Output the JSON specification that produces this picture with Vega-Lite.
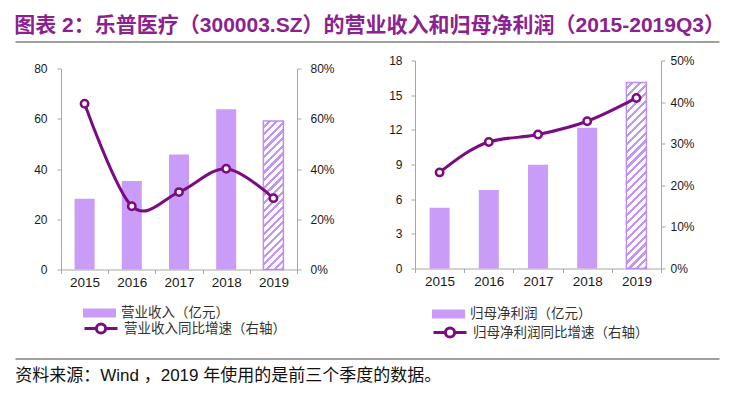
{
  "$schema": "https://vega.github.io/schema/vega-lite/v6.json",
  "padding": {"left": 12, "top": 14.5, "right": 5, "bottom": 5},
  "background": "#ffffff",
  "config": {
    "view": {"stroke": null},
    "font": "Liberation Sans, Noto Sans CJK SC",
    "axis": {"labelFont": "Liberation Sans", "grid": false, "domainColor": "#A6A6A6", "tickColor": "#A6A6A6", "labelColor": "#1a1a1a", "domainWidth": 1, "tickWidth": 1},
    "legend": {"labelFont": "Liberation Sans, Noto Sans CJK SC", "labelFontSize": 13.5, "labelColor": "#333333", "padding": 0, "labelOffset": 5, "labelLimit": 400}
  },
  "datasets": {
    "rev": [
      {"year": "2015", "value": 28.2, "growth": 0.66},
      {"year": "2016", "value": 35.2, "growth": 0.252},
      {"year": "2017", "value": 45.8, "growth": 0.308},
      {"year": "2018", "value": 63.8, "growth": 0.401},
      {"year": "2019", "value": 59.1, "growth": 0.284}
    ],
    "np": [
      {"year": "2015", "value": 5.25, "growth": 0.231},
      {"year": "2016", "value": 6.8, "growth": 0.304},
      {"year": "2017", "value": 8.97, "growth": 0.322},
      {"year": "2018", "value": 12.17, "growth": 0.354},
      {"year": "2019", "value": 16.1, "growth": 0.41}
    ],
    "blank": [{}]
  },
  "spacing": 11,
  "vconcat": [
    {
      "width": 704,
      "height": 2,
      "title": {"text": "图表 2：乐普医疗（300003.SZ）的营业收入和归母净利润（2015-2019Q3）", "anchor": "start", "fontSize": 21, "fontWeight": "bold", "color": "#8B2290", "font": "Liberation Sans, Noto Sans CJK SC", "offset": 2, "dx": 2},
      "data": {"name": "blank"},
      "mark": {"type": "point", "opacity": 0},
      "encoding": {"x": {"datum": 0, "type": "quantitative", "scale": {"domain": [0, 1]}, "axis": {"title": null, "labels": false, "ticks": false, "grid": false, "domainColor": "#7F7F7F", "domainWidth": 1.5}}}
    },
    {
      "spacing": 50,
      "resolve": {"scale": {"fill": "independent", "stroke": "independent"}, "legend": {"fill": "independent", "stroke": "independent"}},
      "hconcat": [
        {
          "width": 282,
          "height": 209,
          "data": {"name": "rev"},
          "layer": [
            {
              "encoding": {
                "x": {"field": "year", "type": "ordinal", "scale": {"paddingInner": 0, "paddingOuter": 0, "range": [46, 282]}, "axis": {"title": null, "labelAngle": 0, "tickBand": "extent", "tickSize": 4, "labelPadding": 2, "labelFontSize": 13.5}},
                "y": {"field": "value", "type": "quantitative", "scale": {"domain": [0, 80], "nice": false, "range": [209, 8]}, "axis": {"title": null, "offset": -46, "values": [0, 20, 40, 60, 80], "tickSize": 4, "labelPadding": 10, "labelFontSize": 12}}
              },
              "layer": [
                {
                  "transform": [{"filter": "datum.year != '2019'"}],
                  "mark": {"type": "bar", "size": 20},
                  "encoding": {
                    "fill": {"datum": "营业收入（亿元）", "scale": {"range": ["#C99CF7"]}, "legend": {"orient": "none", "legendX": 68, "legendY": 236, "title": null, "symbolType": "M-1,-0.27L1,-0.27L1,0.27L-1,0.27Z", "symbolSize": 1089, "symbolStrokeWidth": 0}}
                  }
                },
                {
                  "transform": [{"filter": "datum.year == '2019'"}],
                  "mark": {"type": "bar", "size": 20, "stroke": "#BE8CF2", "strokeWidth": 1.5,
                    "fill": {"gradient": "linear", "x1": 0, "y1": 0, "x2": 0.1501, "y2": 1.1145, "stops": [
                      {"offset": 0, "color": "#ffffff"}, {"offset": 0.02727, "color": "#ffffff"}, {"offset": 0.02727, "color": "#C396F5"}, {"offset": 0.04545, "color": "#C396F5"},
                      {"offset": 0.04545, "color": "#ffffff"}, {"offset": 0.07273, "color": "#ffffff"}, {"offset": 0.07273, "color": "#C396F5"}, {"offset": 0.09091, "color": "#C396F5"},
                      {"offset": 0.09091, "color": "#ffffff"}, {"offset": 0.11818, "color": "#ffffff"}, {"offset": 0.11818, "color": "#C396F5"}, {"offset": 0.13636, "color": "#C396F5"},
                      {"offset": 0.13636, "color": "#ffffff"}, {"offset": 0.16364, "color": "#ffffff"}, {"offset": 0.16364, "color": "#C396F5"}, {"offset": 0.18182, "color": "#C396F5"},
                      {"offset": 0.18182, "color": "#ffffff"}, {"offset": 0.20909, "color": "#ffffff"}, {"offset": 0.20909, "color": "#C396F5"}, {"offset": 0.22727, "color": "#C396F5"},
                      {"offset": 0.22727, "color": "#ffffff"}, {"offset": 0.25455, "color": "#ffffff"}, {"offset": 0.25455, "color": "#C396F5"}, {"offset": 0.27273, "color": "#C396F5"},
                      {"offset": 0.27273, "color": "#ffffff"}, {"offset": 0.3, "color": "#ffffff"}, {"offset": 0.3, "color": "#C396F5"}, {"offset": 0.31818, "color": "#C396F5"},
                      {"offset": 0.31818, "color": "#ffffff"}, {"offset": 0.34545, "color": "#ffffff"}, {"offset": 0.34545, "color": "#C396F5"}, {"offset": 0.36364, "color": "#C396F5"},
                      {"offset": 0.36364, "color": "#ffffff"}, {"offset": 0.39091, "color": "#ffffff"}, {"offset": 0.39091, "color": "#C396F5"}, {"offset": 0.40909, "color": "#C396F5"},
                      {"offset": 0.40909, "color": "#ffffff"}, {"offset": 0.43636, "color": "#ffffff"}, {"offset": 0.43636, "color": "#C396F5"}, {"offset": 0.45455, "color": "#C396F5"},
                      {"offset": 0.45455, "color": "#ffffff"}, {"offset": 0.48182, "color": "#ffffff"}, {"offset": 0.48182, "color": "#C396F5"}, {"offset": 0.5, "color": "#C396F5"},
                      {"offset": 0.5, "color": "#ffffff"}, {"offset": 0.52727, "color": "#ffffff"}, {"offset": 0.52727, "color": "#C396F5"}, {"offset": 0.54545, "color": "#C396F5"},
                      {"offset": 0.54545, "color": "#ffffff"}, {"offset": 0.57273, "color": "#ffffff"}, {"offset": 0.57273, "color": "#C396F5"}, {"offset": 0.59091, "color": "#C396F5"},
                      {"offset": 0.59091, "color": "#ffffff"}, {"offset": 0.61818, "color": "#ffffff"}, {"offset": 0.61818, "color": "#C396F5"}, {"offset": 0.63636, "color": "#C396F5"},
                      {"offset": 0.63636, "color": "#ffffff"}, {"offset": 0.66364, "color": "#ffffff"}, {"offset": 0.66364, "color": "#C396F5"}, {"offset": 0.68182, "color": "#C396F5"},
                      {"offset": 0.68182, "color": "#ffffff"}, {"offset": 0.70909, "color": "#ffffff"}, {"offset": 0.70909, "color": "#C396F5"}, {"offset": 0.72727, "color": "#C396F5"},
                      {"offset": 0.72727, "color": "#ffffff"}, {"offset": 0.75455, "color": "#ffffff"}, {"offset": 0.75455, "color": "#C396F5"}, {"offset": 0.77273, "color": "#C396F5"},
                      {"offset": 0.77273, "color": "#ffffff"}, {"offset": 0.8, "color": "#ffffff"}, {"offset": 0.8, "color": "#C396F5"}, {"offset": 0.81818, "color": "#C396F5"},
                      {"offset": 0.81818, "color": "#ffffff"}, {"offset": 0.84545, "color": "#ffffff"}, {"offset": 0.84545, "color": "#C396F5"}, {"offset": 0.86364, "color": "#C396F5"},
                      {"offset": 0.86364, "color": "#ffffff"}, {"offset": 0.89091, "color": "#ffffff"}, {"offset": 0.89091, "color": "#C396F5"}, {"offset": 0.90909, "color": "#C396F5"},
                      {"offset": 0.90909, "color": "#ffffff"}, {"offset": 0.93636, "color": "#ffffff"}, {"offset": 0.93636, "color": "#C396F5"}, {"offset": 0.95455, "color": "#C396F5"},
                      {"offset": 0.95455, "color": "#ffffff"}, {"offset": 0.98182, "color": "#ffffff"}, {"offset": 0.98182, "color": "#C396F5"}, {"offset": 1, "color": "#C396F5"}
                    ]}
                  }
                }
              ]
            },
            {
              "mark": {"type": "line", "interpolate": "cardinal", "strokeWidth": 3, "point": {"filled": false, "fill": "#ffffff", "size": 55, "strokeWidth": 2.5}},
              "encoding": {
                "x": {"field": "year", "type": "ordinal"},
                "y": {"field": "growth", "type": "quantitative", "scale": {"domain": [0, 0.8], "nice": false, "range": [209, 8]}, "axis": {"title": null, "orient": "right", "format": ".0%", "values": [0, 0.2, 0.4, 0.6, 0.8], "tickSize": 4, "labelPadding": 9, "labelFontSize": 12, "minExtent": 36, "maxExtent": 36}},
                "stroke": {"datum": "营业收入同比增速（右轴）", "scale": {"range": ["#7B0C80"]}, "legend": {"orient": "none", "legendX": 68, "legendY": 250, "title": null, "symbolType": "M-1,0L-0.28,0M0.28,0L1,0M-0.28,0A0.28,0.28,0,1,0,0.28,0A0.28,0.28,0,1,0,-0.28,0Z", "symbolSize": 1089, "symbolStrokeWidth": 3, "symbolFillColor": "#ffffff"}}
              }
            }
          ],
          "resolve": {"scale": {"y": "independent"}}
        },
        {
          "width": 246,
          "height": 208,
          "data": {"name": "np"},
          "layer": [
            {
              "encoding": {
                "x": {"field": "year", "type": "ordinal", "scale": {"paddingInner": 0, "paddingOuter": 0}, "axis": {"title": null, "labelAngle": 0, "tickBand": "extent", "tickSize": 4, "labelPadding": 2, "labelFontSize": 13.5}},
                "y": {"field": "value", "type": "quantitative", "scale": {"domain": [0, 18], "nice": false}, "axis": {"title": null, "values": [0, 3, 6, 9, 12, 15, 18], "tickSize": 4, "labelPadding": 9, "labelFontSize": 12, "minExtent": 30, "maxExtent": 30}}
              },
              "layer": [
                {
                  "transform": [{"filter": "datum.year != '2019'"}],
                  "mark": {"type": "bar", "size": 20},
                  "encoding": {
                    "fill": {"datum": "归母净利润（亿元）", "scale": {"range": ["#C99CF7"]}, "legend": {"orient": "none", "legendX": 17, "legendY": 237, "title": null, "symbolType": "M-1,-0.27L1,-0.27L1,0.27L-1,0.27Z", "symbolSize": 1089, "symbolStrokeWidth": 0}}
                  }
                },
                {
                  "transform": [{"filter": "datum.year == '2019'"}],
                  "mark": {"type": "bar", "size": 20, "stroke": "#BE8CF2", "strokeWidth": 1.5,
                    "fill": {"gradient": "linear", "x1": 0, "y1": 0, "x2": 0.1177, "y2": 1.0948, "stops": [
                      {"offset": 0, "color": "#ffffff"}, {"offset": 0.02308, "color": "#ffffff"}, {"offset": 0.02308, "color": "#C396F5"}, {"offset": 0.03846, "color": "#C396F5"},
                      {"offset": 0.03846, "color": "#ffffff"}, {"offset": 0.06154, "color": "#ffffff"}, {"offset": 0.06154, "color": "#C396F5"}, {"offset": 0.07692, "color": "#C396F5"},
                      {"offset": 0.07692, "color": "#ffffff"}, {"offset": 0.1, "color": "#ffffff"}, {"offset": 0.1, "color": "#C396F5"}, {"offset": 0.11538, "color": "#C396F5"},
                      {"offset": 0.11538, "color": "#ffffff"}, {"offset": 0.13846, "color": "#ffffff"}, {"offset": 0.13846, "color": "#C396F5"}, {"offset": 0.15385, "color": "#C396F5"},
                      {"offset": 0.15385, "color": "#ffffff"}, {"offset": 0.17692, "color": "#ffffff"}, {"offset": 0.17692, "color": "#C396F5"}, {"offset": 0.19231, "color": "#C396F5"},
                      {"offset": 0.19231, "color": "#ffffff"}, {"offset": 0.21538, "color": "#ffffff"}, {"offset": 0.21538, "color": "#C396F5"}, {"offset": 0.23077, "color": "#C396F5"},
                      {"offset": 0.23077, "color": "#ffffff"}, {"offset": 0.25385, "color": "#ffffff"}, {"offset": 0.25385, "color": "#C396F5"}, {"offset": 0.26923, "color": "#C396F5"},
                      {"offset": 0.26923, "color": "#ffffff"}, {"offset": 0.29231, "color": "#ffffff"}, {"offset": 0.29231, "color": "#C396F5"}, {"offset": 0.30769, "color": "#C396F5"},
                      {"offset": 0.30769, "color": "#ffffff"}, {"offset": 0.33077, "color": "#ffffff"}, {"offset": 0.33077, "color": "#C396F5"}, {"offset": 0.34615, "color": "#C396F5"},
                      {"offset": 0.34615, "color": "#ffffff"}, {"offset": 0.36923, "color": "#ffffff"}, {"offset": 0.36923, "color": "#C396F5"}, {"offset": 0.38462, "color": "#C396F5"},
                      {"offset": 0.38462, "color": "#ffffff"}, {"offset": 0.40769, "color": "#ffffff"}, {"offset": 0.40769, "color": "#C396F5"}, {"offset": 0.42308, "color": "#C396F5"},
                      {"offset": 0.42308, "color": "#ffffff"}, {"offset": 0.44615, "color": "#ffffff"}, {"offset": 0.44615, "color": "#C396F5"}, {"offset": 0.46154, "color": "#C396F5"},
                      {"offset": 0.46154, "color": "#ffffff"}, {"offset": 0.48462, "color": "#ffffff"}, {"offset": 0.48462, "color": "#C396F5"}, {"offset": 0.5, "color": "#C396F5"},
                      {"offset": 0.5, "color": "#ffffff"}, {"offset": 0.52308, "color": "#ffffff"}, {"offset": 0.52308, "color": "#C396F5"}, {"offset": 0.53846, "color": "#C396F5"},
                      {"offset": 0.53846, "color": "#ffffff"}, {"offset": 0.56154, "color": "#ffffff"}, {"offset": 0.56154, "color": "#C396F5"}, {"offset": 0.57692, "color": "#C396F5"},
                      {"offset": 0.57692, "color": "#ffffff"}, {"offset": 0.6, "color": "#ffffff"}, {"offset": 0.6, "color": "#C396F5"}, {"offset": 0.61538, "color": "#C396F5"},
                      {"offset": 0.61538, "color": "#ffffff"}, {"offset": 0.63846, "color": "#ffffff"}, {"offset": 0.63846, "color": "#C396F5"}, {"offset": 0.65385, "color": "#C396F5"},
                      {"offset": 0.65385, "color": "#ffffff"}, {"offset": 0.67692, "color": "#ffffff"}, {"offset": 0.67692, "color": "#C396F5"}, {"offset": 0.69231, "color": "#C396F5"},
                      {"offset": 0.69231, "color": "#ffffff"}, {"offset": 0.71538, "color": "#ffffff"}, {"offset": 0.71538, "color": "#C396F5"}, {"offset": 0.73077, "color": "#C396F5"},
                      {"offset": 0.73077, "color": "#ffffff"}, {"offset": 0.75385, "color": "#ffffff"}, {"offset": 0.75385, "color": "#C396F5"}, {"offset": 0.76923, "color": "#C396F5"},
                      {"offset": 0.76923, "color": "#ffffff"}, {"offset": 0.79231, "color": "#ffffff"}, {"offset": 0.79231, "color": "#C396F5"}, {"offset": 0.80769, "color": "#C396F5"},
                      {"offset": 0.80769, "color": "#ffffff"}, {"offset": 0.83077, "color": "#ffffff"}, {"offset": 0.83077, "color": "#C396F5"}, {"offset": 0.84615, "color": "#C396F5"},
                      {"offset": 0.84615, "color": "#ffffff"}, {"offset": 0.86923, "color": "#ffffff"}, {"offset": 0.86923, "color": "#C396F5"}, {"offset": 0.88462, "color": "#C396F5"},
                      {"offset": 0.88462, "color": "#ffffff"}, {"offset": 0.90769, "color": "#ffffff"}, {"offset": 0.90769, "color": "#C396F5"}, {"offset": 0.92308, "color": "#C396F5"},
                      {"offset": 0.92308, "color": "#ffffff"}, {"offset": 0.94615, "color": "#ffffff"}, {"offset": 0.94615, "color": "#C396F5"}, {"offset": 0.96154, "color": "#C396F5"},
                      {"offset": 0.96154, "color": "#ffffff"}, {"offset": 0.98462, "color": "#ffffff"}, {"offset": 0.98462, "color": "#C396F5"}, {"offset": 1, "color": "#C396F5"}
                    ]}
                  }
                }
              ]
            },
            {
              "mark": {"type": "line", "interpolate": "monotone", "strokeWidth": 3, "point": {"filled": false, "fill": "#ffffff", "size": 55, "strokeWidth": 2.5}},
              "encoding": {
                "x": {"field": "year", "type": "ordinal"},
                "y": {"field": "growth", "type": "quantitative", "scale": {"domain": [0, 0.5], "nice": false}, "axis": {"title": null, "orient": "right", "format": ".0%", "values": [0, 0.1, 0.2, 0.3, 0.4, 0.5], "tickSize": 4, "labelPadding": 5, "labelFontSize": 12}},
                "stroke": {"datum": "归母净利润同比增速（右轴）", "scale": {"range": ["#7B0C80"]}, "legend": {"orient": "none", "legendX": 17, "legendY": 254, "title": null, "symbolType": "M-1,0L-0.28,0M0.28,0L1,0M-0.28,0A0.28,0.28,0,1,0,0.28,0A0.28,0.28,0,1,0,-0.28,0Z", "symbolSize": 1089, "symbolStrokeWidth": 3, "symbolFillColor": "#ffffff"}}
              }
            }
          ],
          "resolve": {"scale": {"y": "independent"}}
        }
      ]
    },
    {
      "width": 704,
      "height": 1,
      "title": {"text": "资料来源：Wind ，2019 年使用的是前三个季度的数据。", "orient": "bottom", "anchor": "start", "fontSize": 17, "fontWeight": "normal", "color": "#111111", "offset": 7, "dx": 3},
      "data": {"name": "blank"},
      "mark": {"type": "point", "opacity": 0},
      "encoding": {"x": {"datum": 0, "type": "quantitative", "scale": {"domain": [0, 1]}, "axis": {"title": null, "labels": false, "ticks": false, "grid": false, "domainColor": "#7F7F7F", "domainWidth": 1.5}}}
    }
  ]
}
